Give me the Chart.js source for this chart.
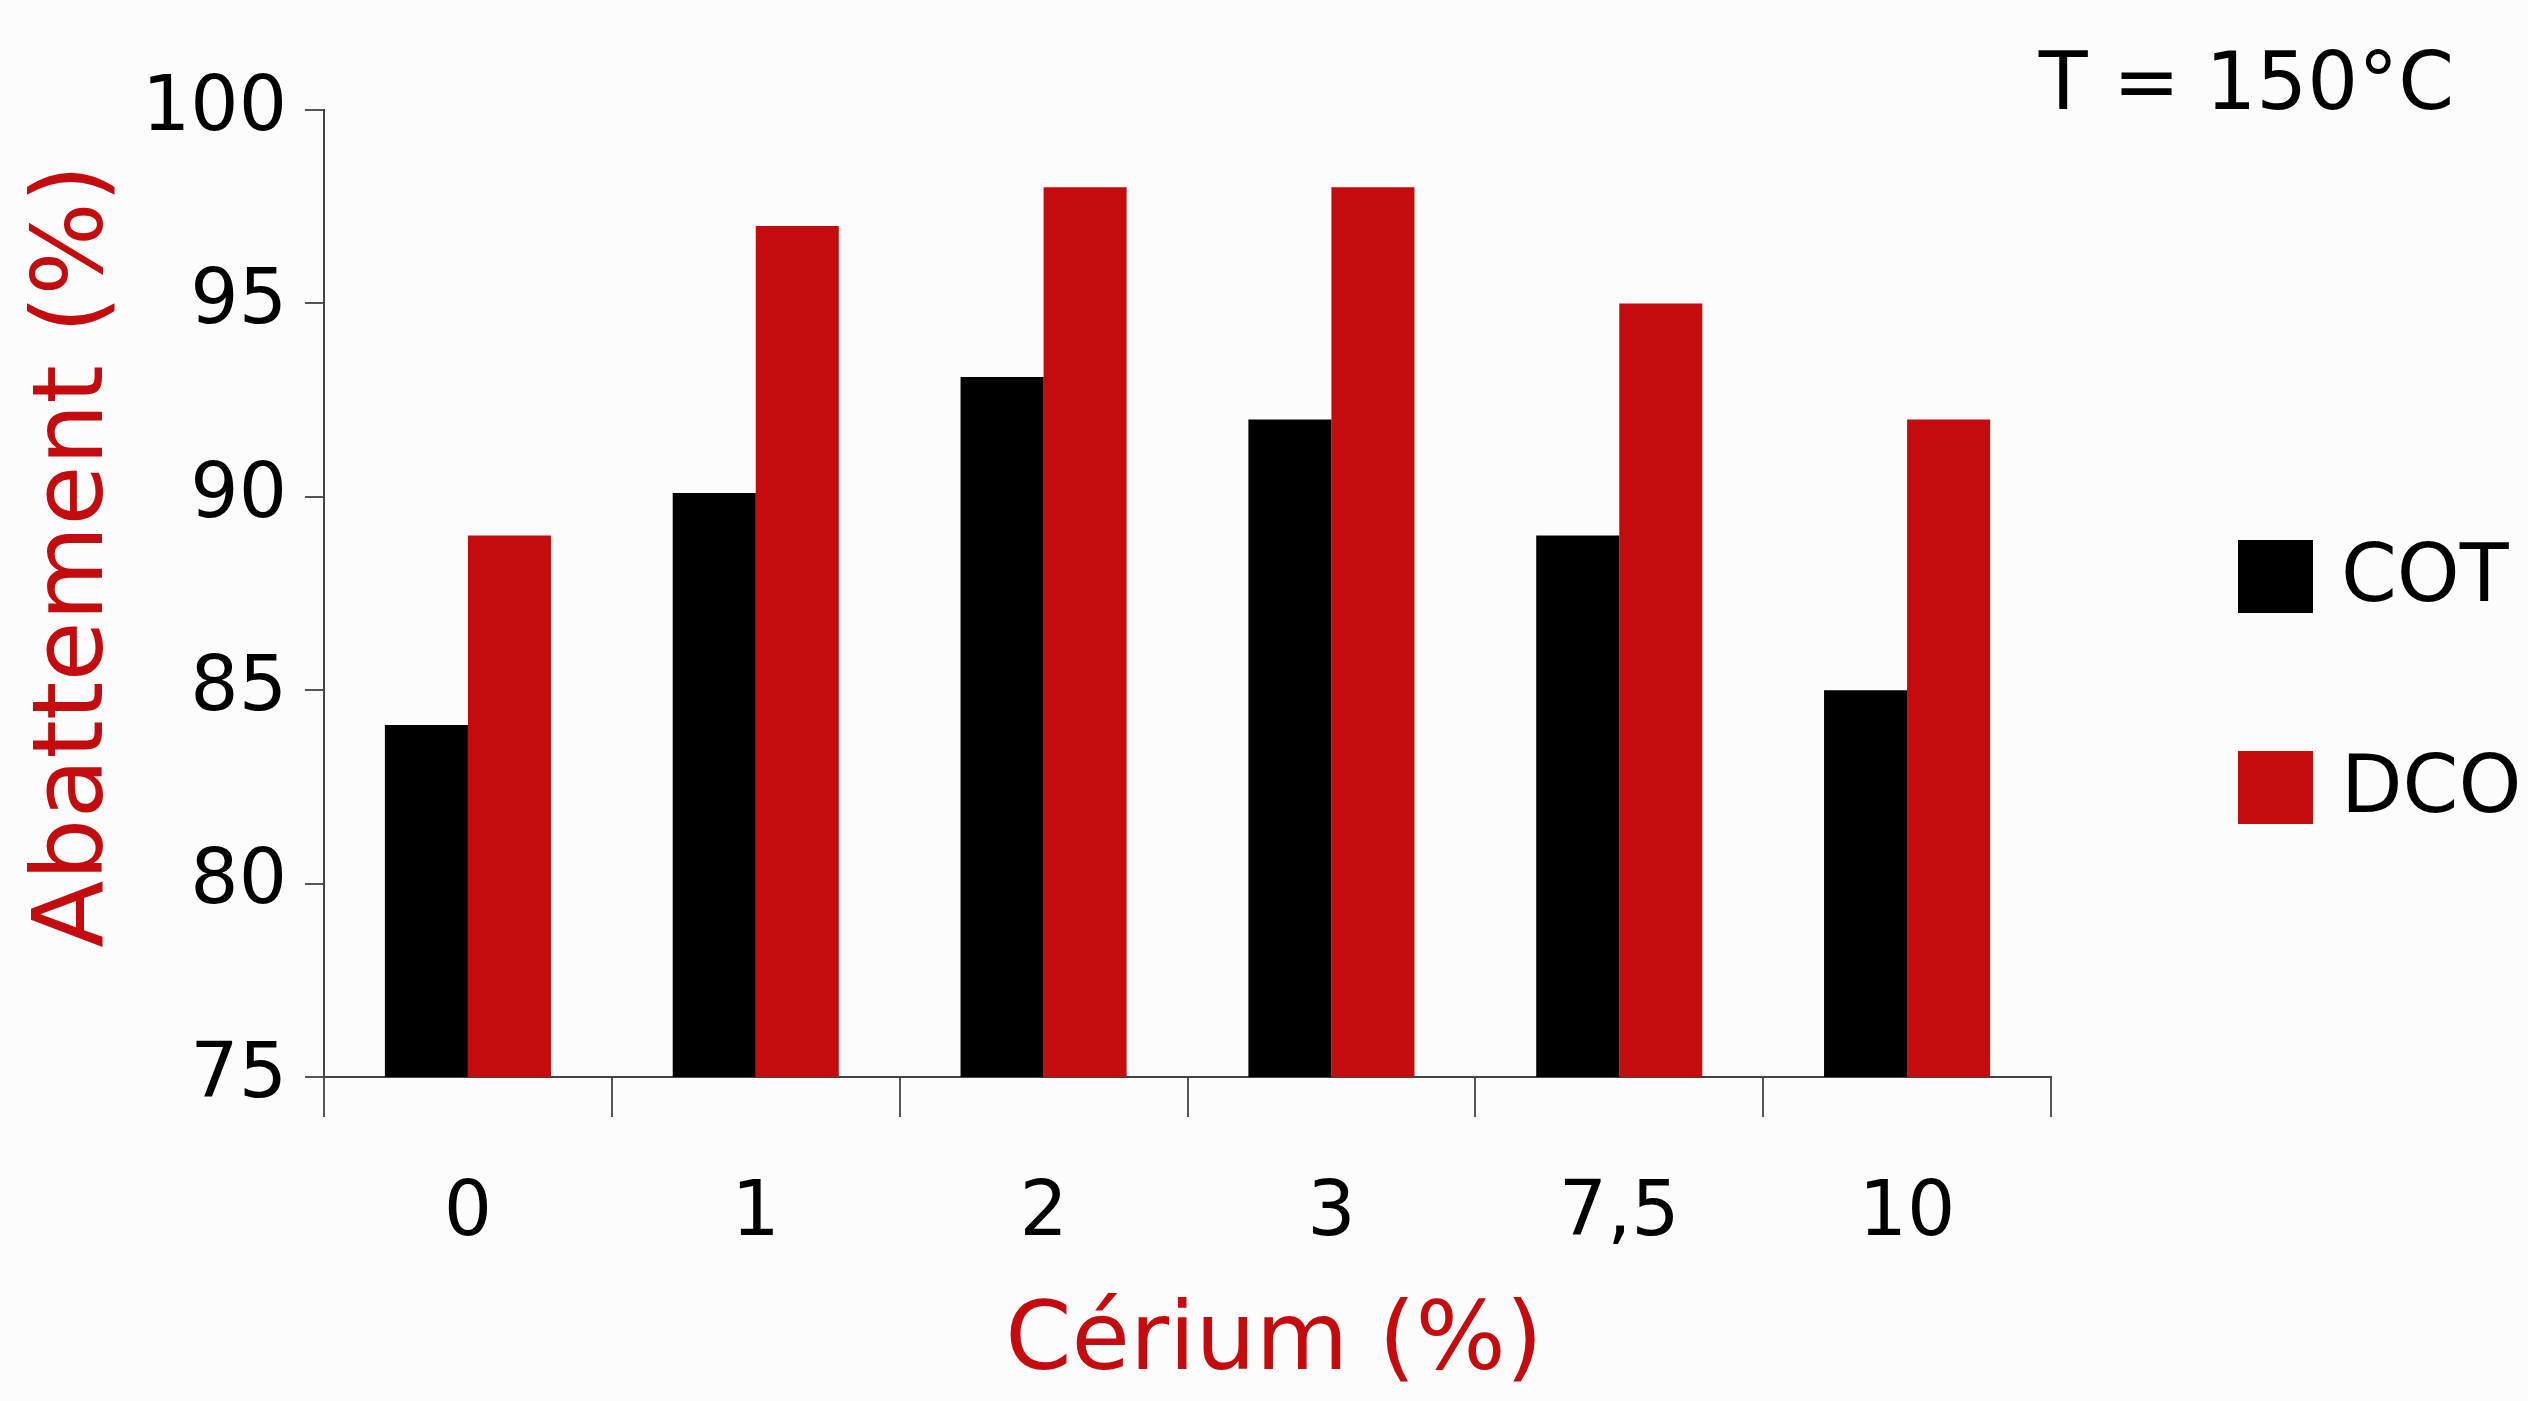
<!DOCTYPE html>
<html>
<head>
<meta charset="utf-8">
<script src="https://cdn.jsdelivr.net/npm/chart.js@4"></script>
<style>
  html, body { margin: 0; padding: 0; background: #fcfcfc; }
  #wrap { width: 2528px; height: 1401px; position: relative; }
</style>
</head>
<body>
<div id="wrap"><canvas id="chart"></canvas></div>
<script>
const categories = ['0', '1', '2', '3', '7,5', '10'];
const cotValues = [84.1, 90.1, 93.1, 92, 89, 85];
const dcoValues = [89, 97, 98, 98, 95, 92];
const seriesNames = ['COT', 'DCO'];
const yTicks = [75, 80, 85, 90, 95, 100];

const FONT = '"Comic Sans MS", "DejaVu Sans", sans-serif';
const RED = '#c40c0e';

// axis titles, temperature note and legend drawn on the canvas
const extras = {
    id: 'extras',
    afterDraw(chart) {
        const ctx = chart.ctx;
        ctx.save();
        ctx.textBaseline = 'middle';

        // axis titles
        ctx.fillStyle = RED;
        ctx.textAlign = 'center';
        ctx.font = '95px ' + FONT;
        ctx.fillText('Cérium (%)', 1274, 1344);
        ctx.save();
        ctx.translate(77, 556);
        ctx.rotate(-Math.PI / 2);
        ctx.font = '98px ' + FONT;
        ctx.fillText('Abattement (%)', 0, 0);
        ctx.restore();

        ctx.fillStyle = '#000';
        ctx.font = '80px ' + FONT;
        ctx.textAlign = 'right';
        ctx.fillText('T = 150°C', 2454, 88);

        chart.data.datasets.forEach((ds, i) => {
            const y = 540 + i * 211;
            ctx.fillStyle = ds.backgroundColor;
            ctx.fillRect(2238, y, 75, 73);
            ctx.fillStyle = '#000';
            ctx.textAlign = 'left';
            ctx.font = '80px ' + FONT;
            ctx.fillText(ds.label, 2341, y + 40);
        });
        ctx.restore();
    }
};

new Chart(document.getElementById('chart'), {
    type: 'bar',
    data: {
        labels: categories,
        datasets: [
            { label: seriesNames[0], data: cotValues, backgroundColor: '#000000' },
            { label: seriesNames[1], data: dcoValues, backgroundColor: RED }
        ]
    },
    options: {
        responsive: true,
        maintainAspectRatio: false,
        devicePixelRatio: 1,
        animation: false,
        categoryPercentage: 0.577,
        barPercentage: 1.0,
        layout: { padding: { left: 0, right: 477, top: 110, bottom: 0 } },
        plugins: {
            legend: { display: false },
            tooltip: { enabled: false }
        },
        scales: {
            x: {
                grid: { drawOnChartArea: false, drawTicks: true, tickLength: 40, color: '#555', lineWidth: 2 },
                border: { display: true, color: '#444', width: 2 },
                ticks: { color: '#000', font: { family: FONT, size: 76 }, padding: 53 },
                afterFit(scale) { scale.height = 324; }
            },
            y: {
                min: 75,
                max: 100,
                afterBuildTicks(scale) { scale.ticks = yTicks.map(v => ({ value: v })); },
                grid: { drawOnChartArea: false, drawTicks: true, tickLength: 19, color: '#555', lineWidth: 2 },
                border: { display: true, color: '#444', width: 2 },
                ticks: { color: '#000', font: { family: FONT, size: 76 }, padding: 18 },
                afterFit(scale) { scale.width = 324; }
            }
        }
    },
    plugins: [extras]
});
</script>
</body>
</html>
